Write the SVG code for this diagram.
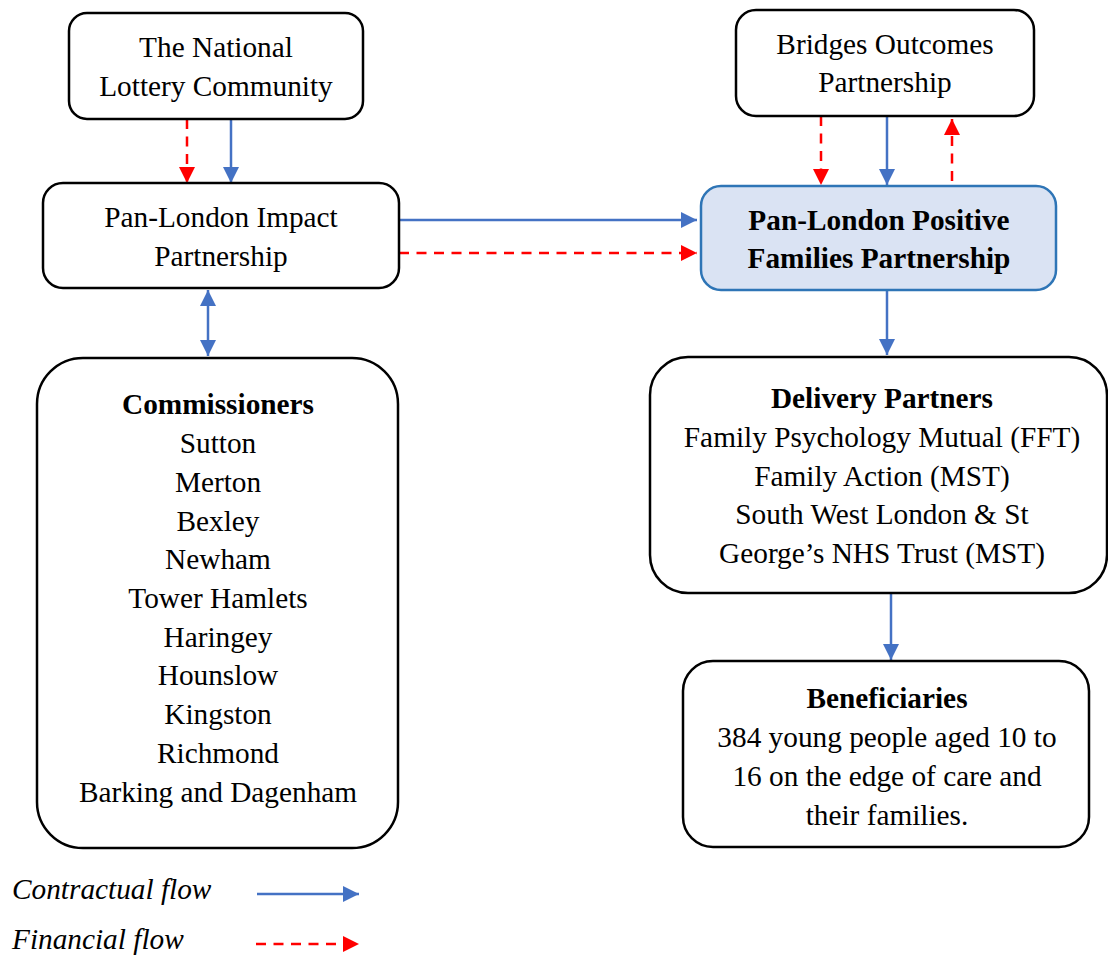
<svg xmlns="http://www.w3.org/2000/svg" width="1108" height="955" viewBox="0 0 1108 955">
<defs>
<style>
.box{fill:#ffffff;stroke:#000000;stroke-width:2.5}
.main{fill:#dae3f3;stroke:#2e75b6;stroke-width:2.5}
text{font-family:"Liberation Serif","Times New Roman",serif;font-size:29.3px;fill:#000000;text-anchor:middle}
.b{font-weight:bold}
.it{font-style:italic;text-anchor:start}
.c{stroke:#4472c4;stroke-width:2.5;fill:none}
.f{stroke:#ff0000;stroke-width:2.5;fill:none;stroke-dasharray:10 7.5}
</style>
<marker id="ab" markerUnits="userSpaceOnUse" markerWidth="16" markerHeight="16" viewBox="0 0 16 16" refX="16" refY="8" orient="auto-start-reverse">
<path d="M0,0 L16,8 L0,16 z" fill="#4472c4"/>
</marker>
<marker id="ar" markerUnits="userSpaceOnUse" markerWidth="16" markerHeight="16" viewBox="0 0 16 16" refX="16" refY="8" orient="auto-start-reverse">
<path d="M0,0 L16,8 L0,16 z" fill="#ff0000"/>
</marker>
</defs>
<rect width="1108" height="955" fill="#ffffff"/>

<g id="connectors">
<line class="f" x1="187" y1="119" x2="187" y2="183" marker-end="url(#ar)"/>
<line class="c" x1="231" y1="119" x2="231" y2="183" marker-end="url(#ab)"/>
<line class="c" x1="208" y1="290" x2="208" y2="356" marker-start="url(#ab)" marker-end="url(#ab)"/>
<line class="c" x1="399" y1="220" x2="697" y2="220" marker-end="url(#ab)"/>
<line class="f" x1="399" y1="253" x2="697" y2="253" marker-end="url(#ar)"/>
<line class="f" x1="821" y1="116" x2="821" y2="185" marker-end="url(#ar)"/>
<line class="c" x1="887" y1="116" x2="887" y2="185" marker-end="url(#ab)"/>
<line class="f" x1="952" y1="181" x2="952" y2="119" marker-end="url(#ar)"/>
<line class="c" x1="887" y1="290" x2="887" y2="355" marker-end="url(#ab)"/>
<line class="c" x1="891" y1="593" x2="891" y2="660" marker-end="url(#ab)"/>
</g>

<g id="lottery">
<rect class="box" x="69" y="13" width="294" height="106" rx="18"/>
<text x="216" y="57">The National</text>
<text x="216" y="96">Lottery Community</text>
</g>

<g id="impact">
<rect class="box" x="43" y="183" width="356" height="105" rx="20"/>
<text x="221" y="227">Pan-London Impact</text>
<text x="221" y="266">Partnership</text>
</g>

<g id="bridges">
<rect class="box" x="736" y="10" width="298" height="106" rx="20"/>
<text x="885" y="54">Bridges Outcomes</text>
<text x="885" y="92">Partnership</text>
</g>

<g id="pfp">
<rect class="main" x="701" y="186" width="355" height="104" rx="20"/>
<text class="b" x="879" y="230">Pan-London Positive</text>
<text class="b" x="879" y="268">Families Partnership</text>
</g>

<g id="commissioners">
<rect class="box" x="37" y="358" width="361" height="490" rx="46"/>
<text class="b" x="218" y="414">Commissioners</text>
<text x="218" y="453">Sutton</text>
<text x="218" y="492">Merton</text>
<text x="218" y="531">Bexley</text>
<text x="218" y="569">Newham</text>
<text x="218" y="608">Tower Hamlets</text>
<text x="218" y="647">Haringey</text>
<text x="218" y="685">Hounslow</text>
<text x="218" y="724">Kingston</text>
<text x="218" y="763">Richmond</text>
<text x="218" y="802">Barking and Dagenham</text>
</g>

<g id="delivery">
<rect class="box" x="650" y="357" width="457" height="236" rx="38"/>
<text class="b" x="882" y="408">Delivery Partners</text>
<text x="882" y="447">Family Psychology Mutual (FFT)</text>
<text x="882" y="486">Family Action (MST)</text>
<text x="882" y="524">South West London &amp; St</text>
<text x="882" y="563">George’s NHS Trust (MST)</text>
</g>

<g id="beneficiaries">
<rect class="box" x="683" y="661" width="406" height="186" rx="30"/>
<text class="b" x="887" y="708">Beneficiaries</text>
<text x="887" y="747">384 young people aged 10 to</text>
<text x="887" y="786">16 on the edge of care and</text>
<text x="887" y="825">their families.</text>
</g>

<g id="legend">
<text class="it" x="12" y="899">Contractual flow</text>
<line class="c" x1="257" y1="894" x2="359" y2="894" marker-end="url(#ab)"/>
<text class="it" x="12" y="949">Financial flow</text>
<line class="f" x1="256" y1="944" x2="359" y2="944" marker-end="url(#ar)"/>
</g>
</svg>
